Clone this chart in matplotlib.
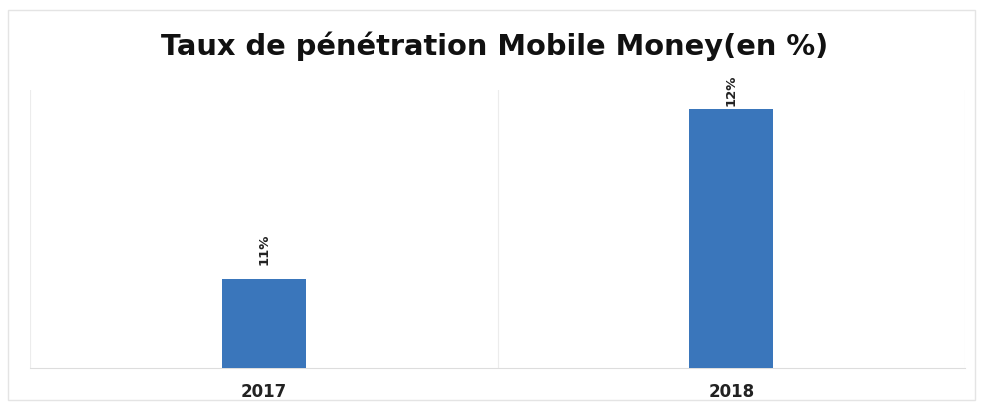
import matplotlib.pyplot as plt
from matplotlib.patches import Rectangle

years = ['2017', '2018']
rates = [11, 12]
labels = ['11%', '12%']

fig = plt.figure(figsize=(9.84, 4.13), dpi=100)
fig.patches.append(Rectangle((8 / 984, 13 / 413), 967 / 984, 390 / 413,
                             transform=fig.transFigure, fill=False,
                             edgecolor='#e4e4e4', linewidth=1))

ax = fig.add_axes([30 / 984, 45 / 413, 935 / 984, 278 / 413])
x = range(len(years))
ax.bar(x, rates, width=0.18, color='#3a76bb', zorder=3)
ax.set_xlim(-0.5, 1.5)
ax.set_ylim(10.476, 12.11)

# the top label gets pushed down against the plot edge
offsets = [10, 2]
for xi, r, lab, off in zip(x, rates, labels, offsets):
    ax.annotate(lab, (xi, r), xytext=(0, off), textcoords='offset points',
                rotation=90, ha='center', va='bottom', fontsize=9.5,
                fontweight='bold', color='#222222', annotation_clip=False)

# category separators
for xv in (-0.5, 0.5, 1.5):
    ax.axvline(xv, color='#ececec', linewidth=0.8, zorder=1)

ax.set_xticks(list(x))
ax.set_xticklabels(years, fontsize=12, fontweight='bold', color='#222222')
ax.tick_params(axis='x', length=0, pad=11)
ax.set_yticks([])
for side in ('top', 'left', 'right'):
    ax.spines[side].set_visible(False)
ax.spines['bottom'].set_color('#dddddd')

fig.text(0.503, 0.888, 'Taux de pénétration Mobile Money(en %)', ha='center',
         va='center', fontsize=20.8, fontweight='bold', color='#111111')

fig.savefig('out.png', dpi=100, facecolor='white')
